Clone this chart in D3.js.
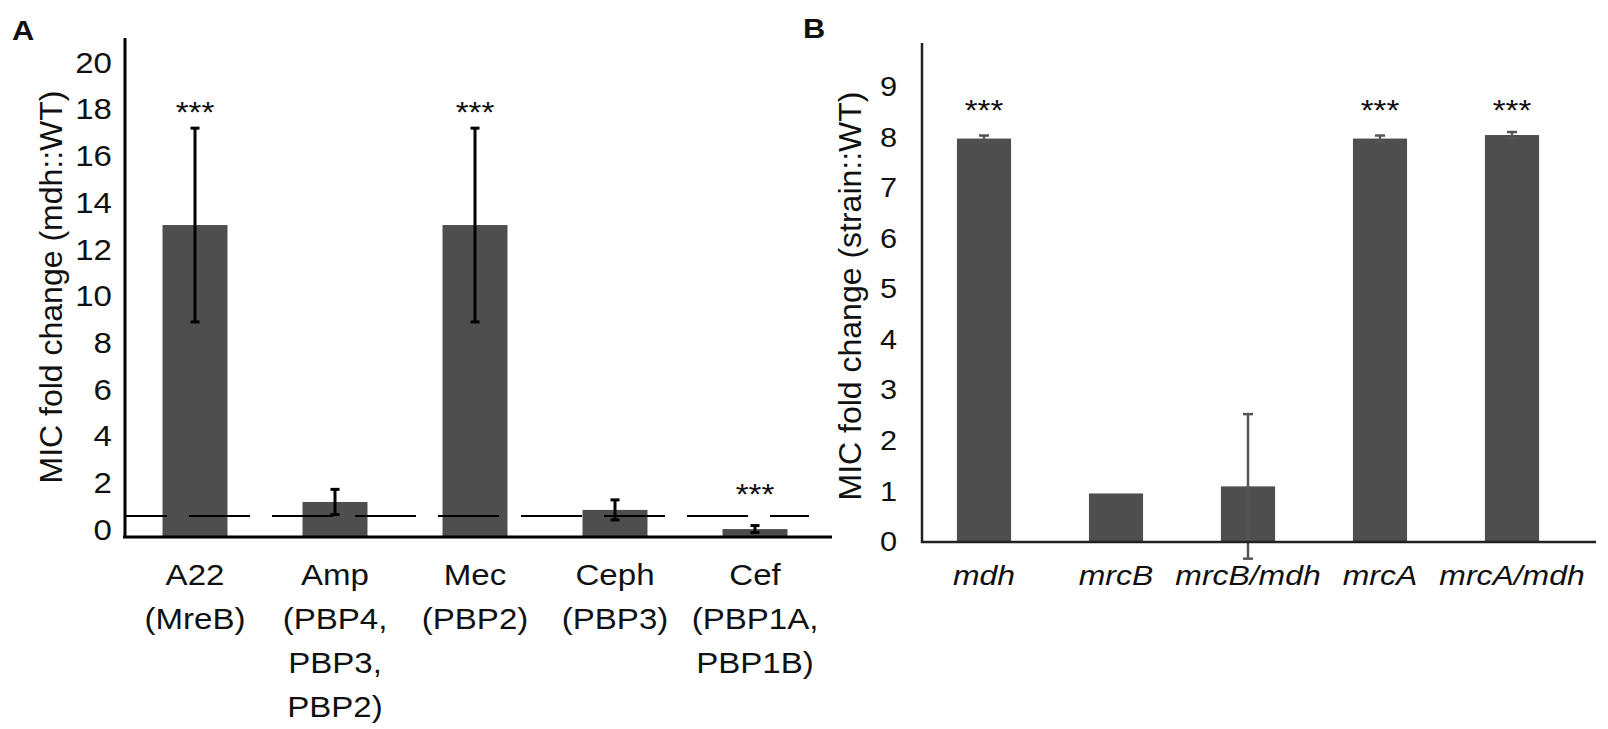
<!DOCTYPE html>
<html>
<head>
<meta charset="utf-8">
<script src="https://cdn.jsdelivr.net/npm/d3@7"></script>
<style>
  body { margin: 0; background: #fff; }
  text { font-family: "Liberation Sans", Arial, sans-serif; fill: #111; }
</style>
</head>
<body>
<div id="chart"></div>
<script>
const width = 1608
const height = 729

// panel A data
const drugsA = ["A22", "Amp", "Mec", "Ceph", "Cef"]
const targetsA = [["(MreB)"], ["(PBP4,", "PBP3,", "PBP2)"], ["(PBP2)"], ["(PBP3)"], ["(PBP1A,", "PBP1B)"]]
const foldA = [13.36, 1.5, 13.36, 1.16, 0.34]
const errA = [4.15, 0.54, 4.15, 0.43, 0.15]
const starsA = ["***", "", "***", "", "***"]
const starLevelA = [18.5, 0, 18.5, 0, 2.15]
const ticksA = [0, 2, 4, 6, 8, 10, 12, 14, 16, 18, 20]
const wtLevelA = 0.9

// panel B data
const strainsB = ["mdh", "mrcB", "mrcB/mdh", "mrcA", "mrcA/mdh"]
const foldB = [7.98, 0.96, 1.1, 7.98, 8.05]
const errB = [0.06, 0, 1.43, 0.06, 0.06]
const starsB = ["***", "", "", "***", "***"]
const starLevelB = [8.68, 0, 0, 8.68, 8.68]
const ticksB = [0, 1, 2, 3, 4, 5, 6, 7, 8, 9]

const barColor = "#4e4e4e"
const stretch = 1.14   // text in the figure is a bit wider than plain Arial

const svg = d3.select("div#chart").append("svg").attr("width", width).attr("height", height)

// ---------- panel A ----------
const gA = svg.append("g").attr("id", "panelA")
const yA = d3.scaleLinear().domain([0, 20]).range([537, 70])
const xA = d3.scaleBand().domain(drugsA).range([125, 825]).paddingInner(0.536).paddingOuter(0.268)

const yAxisA = d3.axisLeft(yA).tickValues(ticksA).tickSize(0).tickPadding(12)
const yAxisGroupA = gA.append("g").attr("transform", "translate(125,0)").call(yAxisA)
yAxisGroupA.select(".domain").remove()
yAxisGroupA.selectAll("text").attr("font-size", 29).attr("x", 0)
    .attr("transform", `translate(-13,-7) scale(${stretch},1)`)

// bars
gA.selectAll("rect.bar").data(foldA).enter().append("rect")
    .attr("class", "bar")
    .attr("x", (d, i) => xA(drugsA[i]))
    .attr("y", d => yA(d))
    .attr("width", xA.bandwidth())
    .attr("height", d => yA(0) - yA(d))
    .attr("fill", barColor)

// WT reference line (dashed)
gA.append("line")
    .attr("x1", 125).attr("x2", 809)
    .attr("y1", yA(wtLevelA)).attr("y2", yA(wtLevelA))
    .attr("stroke", "#000").attr("stroke-width", 2.2)
    .attr("stroke-dasharray", "61,22").attr("stroke-dashoffset", 19)

// error bars
const errGroupA = gA.append("g")
foldA.forEach(function(d, i) {
    const cx = xA(drugsA[i]) + xA.bandwidth() / 2
    const top = yA(d + errA[i]), bot = yA(d - errA[i])
    errGroupA.append("line").attr("x1", cx).attr("x2", cx).attr("y1", top).attr("y2", bot)
        .attr("stroke", "#000").attr("stroke-width", 3)
    ;[top, bot].forEach(yy => {
        errGroupA.append("line").attr("x1", cx - 4.5).attr("x2", cx + 4.5).attr("y1", yy).attr("y2", yy)
            .attr("stroke", "#000").attr("stroke-width", 3)
    })
})

// significance stars
gA.selectAll("text.star").data(starsA).enter().append("text")
    .attr("class", "star")
    .attr("transform", (d, i) => `translate(${xA(drugsA[i]) + xA.bandwidth() / 2},${yA(starLevelA[i])}) scale(${stretch},1)`)
    .attr("dy", "0.58em")
    .attr("text-anchor", "middle")
    .attr("font-size", 29)
    .text(d => d)

// axis lines
gA.append("line").attr("x1", 125).attr("x2", 125).attr("y1", 38).attr("y2", 538)
    .attr("stroke", "#000").attr("stroke-width", 3)
gA.append("line").attr("x1", 123).attr("x2", 832).attr("y1", 537).attr("y2", 537)
    .attr("stroke", "#000").attr("stroke-width", 3)

// category labels
drugsA.forEach(function(d, i) {
    const cx = xA(d) + xA.bandwidth() / 2
    const lines = [d].concat(targetsA[i])
    const t = gA.append("text").attr("text-anchor", "middle").attr("font-size", 29)
        .attr("transform", `translate(${cx},0) scale(${stretch},1)`)
    lines.forEach((l, j) => {
        t.append("tspan").attr("x", 0).attr("y", 585 + j * 44).text(l)
    })
})

gA.append("text")
    .attr("transform", "translate(51,287) rotate(-90)")
    .attr("text-anchor", "middle").attr("dy", "0.35em")
    .attr("font-size", 32)
    .text("MIC fold change (mdh::WT)")

svg.append("text").attr("transform", `translate(12,40) scale(${stretch},1)`)
    .attr("font-size", 27).attr("font-weight", "bold").text("A")

// ---------- panel B ----------
const gB = svg.append("g").attr("id", "panelB")
const yB = d3.scaleLinear().domain([0, 9]).range([542, 87])
const xB = d3.scaleBand().domain(strainsB).range([918, 1578]).paddingInner(0.59).paddingOuter(0.295)

const yAxisB = d3.axisLeft(yB).tickValues(ticksB).tickSize(0).tickPadding(25)
const yAxisGroupB = gB.append("g").attr("transform", "translate(922,0)").call(yAxisB)
yAxisGroupB.select(".domain").remove()
yAxisGroupB.selectAll("text").attr("font-size", 27).attr("x", 0)
    .attr("transform", `translate(-25,0) scale(${stretch},1)`)

gB.selectAll("rect.bar").data(foldB).enter().append("rect")
    .attr("class", "bar")
    .attr("x", (d, i) => xB(strainsB[i]))
    .attr("y", d => yB(d))
    .attr("width", xB.bandwidth())
    .attr("height", d => yB(0) - yB(d))
    .attr("fill", barColor)

const errGroupB = gB.append("g")
foldB.forEach(function(d, i) {
    if (errB[i] === 0) return
    const cx = xB(strainsB[i]) + xB.bandwidth() / 2
    const top = yB(d + errB[i]), bot = yB(d - errB[i])
    errGroupB.append("line").attr("x1", cx).attr("x2", cx).attr("y1", top).attr("y2", bot)
        .attr("stroke", "#555").attr("stroke-width", 2.5)
    ;[top, bot].forEach(yy => {
        errGroupB.append("line").attr("x1", cx - 5).attr("x2", cx + 5).attr("y1", yy).attr("y2", yy)
            .attr("stroke", "#555").attr("stroke-width", 2.5)
    })
})

gB.selectAll("text.star").data(starsB).enter().append("text")
    .attr("class", "star")
    .attr("transform", (d, i) => `translate(${xB(strainsB[i]) + xB.bandwidth() / 2},${yB(starLevelB[i])}) scale(${stretch},1)`)
    .attr("dy", "0.58em")
    .attr("text-anchor", "middle")
    .attr("font-size", 29)
    .text(d => d)

gB.append("line").attr("x1", 922).attr("x2", 922).attr("y1", 43).attr("y2", 543)
    .attr("stroke", "#222").attr("stroke-width", 2.5)
gB.append("line").attr("x1", 921).attr("x2", 1596).attr("y1", 542).attr("y2", 542)
    .attr("stroke", "#222").attr("stroke-width", 2.5)

gB.selectAll("text.cat").data(strainsB).enter().append("text")
    .attr("class", "cat")
    .attr("transform", d => `translate(${xB(d) + xB.bandwidth() / 2},585) scale(${stretch},1)`)
    .attr("text-anchor", "middle")
    .attr("font-size", 28)
    .attr("font-style", "italic")
    .text(d => d)

gB.append("text")
    .attr("transform", "translate(850,296) rotate(-90)")
    .attr("text-anchor", "middle").attr("dy", "0.35em")
    .attr("font-size", 32)
    .text("MIC fold change (strain::WT)")

svg.append("text").attr("transform", `translate(803,38) scale(${stretch},1)`)
    .attr("font-size", 27).attr("font-weight", "bold").text("B")
</script>
</body>
</html>
